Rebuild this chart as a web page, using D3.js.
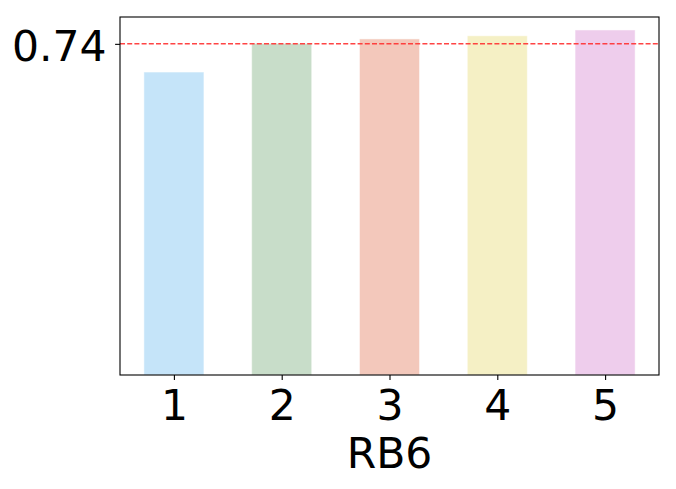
<!DOCTYPE html>
<meta charset="utf-8">
<style>
    html, body {
        margin: 0;
        padding: 0;
        background: #fff;
    }

    svg text {
        font-family: "DejaVu Sans", sans-serif;
    }
</style>
<svg id="chart" width="676" height="489"></svg>
<script src="https://d3js.org/d3.v7.js"></script>
<script>
    // values
    let categories = [1, 2, 3, 4, 5];
    let scores = [0.677, 0.741, 0.751, 0.758, 0.771];
    let barColors = ["#c5e4f9", "#c8ddc9", "#f3c8bb", "#f5f0c5", "#eecdec"];
    let refValue = 0.74;
    let yTicks = [0.74];
    let xLabel = "RB6";

    let svg = d3.select("#chart");

    let plotLeft = 120, plotRight = 659, plotTop = 17, plotBottom = 375;
    let fontSize = 42.5;

    let x = d3.scaleLinear().domain([0.5, 5.5]).range([plotLeft, plotRight]);
    let y = d3.scaleLinear().domain([0, 0.8]).range([plotBottom, plotTop]);

    let barWidth = (x(1) - x(0)) * 0.557;

    // bars
    svg.append("g")
        .selectAll("rect")
        .data(categories)
        .join("rect")
        .attr("x", d => x(d) - barWidth / 2)
        .attr("y", (d, i) => y(scores[i]))
        .attr("width", barWidth)
        .attr("height", (d, i) => y(0) - y(scores[i]))
        .attr("fill", (d, i) => barColors[i])
        .attr("stroke", "#fff")
        .attr("stroke-opacity", 0.5)
        .attr("stroke-width", 1);

    // reference line
    svg.append("line")
        .attr("x1", plotLeft)
        .attr("x2", plotRight)
        .attr("y1", y(refValue))
        .attr("y2", y(refValue))
        .attr("stroke", "#ff3030")
        .attr("stroke-opacity", 0.9)
        .attr("stroke-width", 1.5)
        .attr("stroke-dasharray", "5,2.2");

    // frame
    svg.append("rect")
        .attr("x", plotLeft)
        .attr("y", plotTop)
        .attr("width", plotRight - plotLeft)
        .attr("height", plotBottom - plotTop)
        .attr("fill", "none")
        .attr("stroke", "#000")
        .attr("stroke-width", 1.1);

    // x axis
    let xAxis = svg.append("g")
        .attr("transform", `translate(0,${plotBottom})`)
        .call(d3.axisBottom(x).tickValues(categories).tickSize(4.9).tickPadding(10).tickFormat(d3.format("d")));
    xAxis.select(".domain").remove();
    xAxis.selectAll("line").attr("stroke", "#000").attr("stroke-width", 1.1);
    xAxis.selectAll("text")
        .attr("fill", "#000")
        .style("font-size", fontSize + "px");

    // y axis
    let yAxis = svg.append("g")
        .attr("transform", `translate(${plotLeft},0)`)
        .call(d3.axisLeft(y).tickValues(yTicks).tickSize(4.9).tickPadding(8.5).tickFormat(d3.format(".2f")));
    yAxis.select(".domain").remove();
    yAxis.selectAll("line").attr("stroke", "#000").attr("stroke-width", 1.1);
    yAxis.selectAll("text")
        .attr("fill", "#000")
        .attr("dy", "0.4em")
        .style("font-size", fontSize + "px");

    // axis title
    svg.append("text")
        .attr("x", (plotLeft + plotRight) / 2)
        .attr("y", 468)
        .attr("text-anchor", "middle")
        .style("font-size", fontSize + "px")
        .text(xLabel);
</script>
